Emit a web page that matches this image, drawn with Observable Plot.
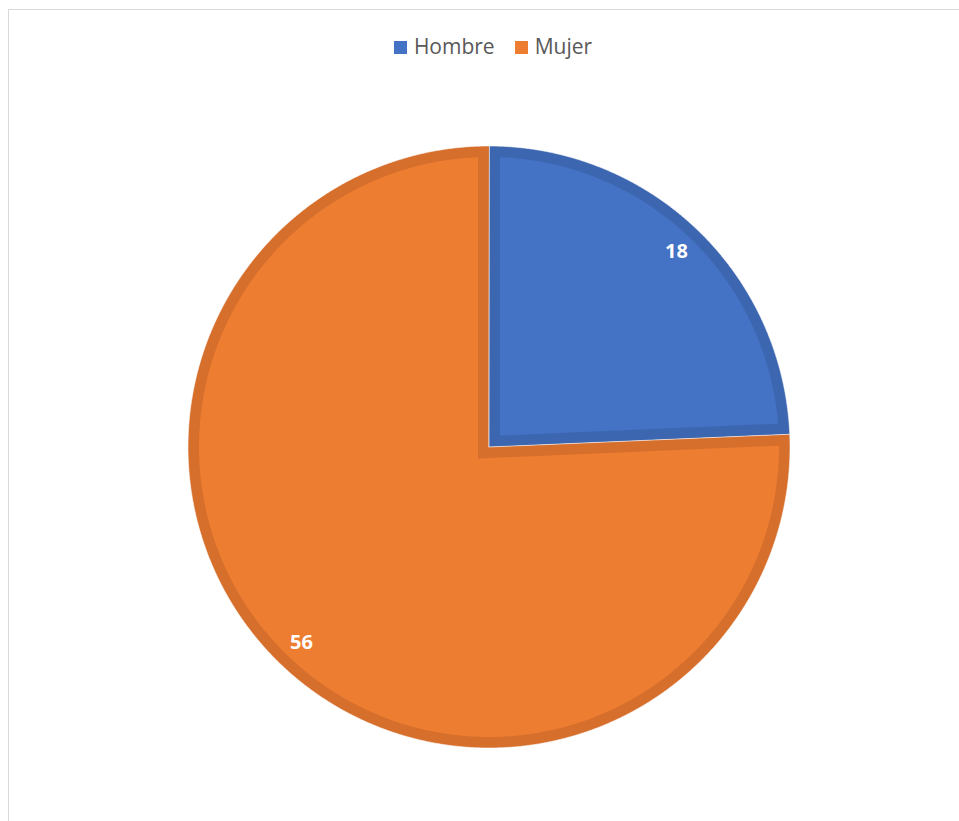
<!DOCTYPE html>
<html><head><meta charset="utf-8">
<script src="https://cdn.jsdelivr.net/npm/d3@7"></script>
<script src="https://cdn.jsdelivr.net/npm/@observablehq/plot@0.6"></script>
<style>
html,body{margin:0;padding:0;background:#fff;overflow:hidden;width:959px;height:821px}
#frameL{position:absolute;left:8px;top:9px;width:1px;height:900px;background:#d9d9d9}
#frameT{position:absolute;left:8px;top:9px;width:1000px;height:1px;background:#d9d9d9}
#legend{position:absolute;left:0;top:31px;width:986px;display:flex;justify-content:center;font-family:"Open Sans",sans-serif;font-size:21px;line-height:30px;color:#595959}
.item{display:flex;align-items:center;margin:0 10px}
.sw{width:13px;height:13px;margin-right:7px;position:relative;top:1px}
#chart{position:absolute;left:0;top:0}
</style></head><body>
<div id="frameL"></div><div id="frameT"></div>
<div id="legend"></div>
<div id="chart"></div>
<script>
// ---- data ----
const categories = ["Hombre", "Mujer"];
const values = [18, 56];
const labels = ["18", "56"];
const fillColors = ["#4472C4", "#ED7D31"];
const borderColors = ["#3C66B0", "#D66E2C"];

// ---- layout (pixels) ----
const W = 959, H = 821;
const cx = 488.5, cy = 446.5, R = 301;   // pie position in the svg
const borderPx = 11;                     // inset border width
const w = borderPx / R;                  // border in data units
const labelR = 0.9;

const arcs = d3.pie().sort(null).value(d => d)(values);

function arcPts(r, a0, a1) {
  const n = Math.max(2, Math.ceil((a1 - a0) / (Math.PI / 720)));
  const pts = [];
  for (let i = 0; i <= n; i++) {
    const a = a0 + (a1 - a0) * i / n;
    pts.push({x: r * Math.sin(a), y: r * Math.cos(a)});
  }
  return pts;
}
const outer = arcs.map(a => [{x: 0, y: 0}, ...arcPts(1, a.startAngle, a.endAngle)]);
const inner = arcs.map(a => {
  const th = a.endAngle - a.startAngle;
  const mid = (a.startAngle + a.endAngle) / 2;
  const d = w / Math.sin(th / 2);
  const delta = Math.asin(w / (1 - w));
  return [{x: d * Math.sin(mid), y: d * Math.cos(mid)},
          ...arcPts(1 - w, a.startAngle + delta, a.endAngle - delta)];
});
const labelData = arcs.map((a, i) => {
  const mid = (a.startAngle + a.endAngle) / 2;
  return {x: labelR * Math.sin(mid), y: labelR * Math.cos(mid), text: labels[i]};
});

const marks = [];
arcs.forEach((a, i) => {
  marks.push(Plot.line(outer[i], {x: "x", y: "y", curve: "linear-closed",
    fill: borderColors[i], stroke: "#ffffff", strokeWidth: 0.8, strokeOpacity: 0.7}));
  marks.push(Plot.line(inner[i], {x: "x", y: "y", curve: "linear-closed",
    fill: fillColors[i], stroke: "none"}));
});
marks.push(Plot.text(labelData, {x: "x", y: "y", text: "text", fill: "white",
  fontSize: 20, fontWeight: "bold", fontFamily: "Open Sans"}));

const chart = Plot.plot({
  width: W, height: H,
  marginLeft: cx - R, marginRight: W - (cx + R),
  marginTop: cy - R, marginBottom: H - (cy + R),
  x: {domain: [-1, 1], axis: null},
  y: {domain: [-1, 1], axis: null},
  style: {background: "transparent"},
  marks
});
document.getElementById("chart").appendChild(chart);

const leg = document.getElementById("legend");
categories.forEach((c, i) => {
  const it = document.createElement("div");
  it.className = "item";
  it.innerHTML = `<span class="sw" style="background:${fillColors[i]}"></span><span>${c}</span>`;
  leg.appendChild(it);
});
</script>
</body></html>
